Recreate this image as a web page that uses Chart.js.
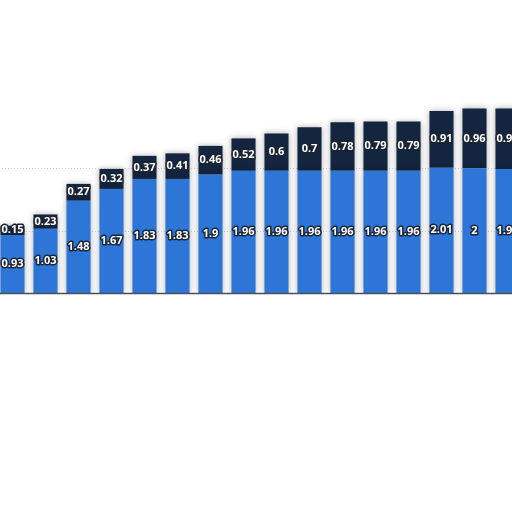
<!DOCTYPE html>
<html>
<head>
<meta charset="utf-8">
<script src="https://cdn.jsdelivr.net/npm/chart.js@4/dist/chart.umd.min.js"></script>
<style>
  html, body { margin: 0; padding: 0; background: #ffffff; overflow: hidden; width: 512px; height: 512px; }
  #wrap { position: absolute; left: -4px; top: 0; width: 528px; height: 512px; }
</style>
</head>
<body>
<div id="wrap"><canvas id="c"></canvas></div>
<script>
const categories = ["1","2","3","4","5","6","7","8","9","10","11","12","13","14","15","16"];
const lowerValues = [0.93, 1.03, 1.48, 1.67, 1.83, 1.83, 1.9, 1.96, 1.96, 1.96, 1.96, 1.96, 1.96, 2.01, 2, 1.99];
const upperValues = [0.15, 0.23, 0.27, 0.32, 0.37, 0.41, 0.46, 0.52, 0.6, 0.7, 0.78, 0.79, 0.79, 0.91, 0.96, 0.97];
const gridValues = [1, 2];

const lowerColor = "#2d76d8";
const upperColor = "#13253f";

const decorPlugin = {
  id: "decor",
  beforeDatasetsDraw(chart) {
    const ctx = chart.ctx;
    const y = chart.scales.y;
    ctx.save();
    ctx.strokeStyle = "rgba(190,190,190,0.7)";
    ctx.lineWidth = 1;
    ctx.setLineDash([1, 2]);
    gridValues.forEach(v => {
      const py = Math.round(y.getPixelForValue(v)) + 0.5;
      ctx.beginPath();
      ctx.moveTo(0, py);
      ctx.lineTo(chart.width, py);
      ctx.stroke();
    });
    ctx.restore();
    ctx.save();
    ctx.shadowColor = "rgba(0,0,0,0.3)";
    ctx.shadowBlur = 6;
  },
  afterDatasetsDraw(chart) {
    const ctx = chart.ctx;
    ctx.restore();
    const y = chart.scales.y;
    ctx.save();
    const py = y.getPixelForValue(0) + 0.5;
    ctx.strokeStyle = "#4a4f57";
    ctx.lineWidth = 1.5;
    ctx.beginPath();
    ctx.moveTo(0, py);
    ctx.lineTo(chart.width, py);
    ctx.stroke();

    ctx.font = "bold 11px 'Open Sans', sans-serif";
    ctx.textAlign = "center";
    ctx.textBaseline = "middle";
    ctx.lineJoin = "round";
    chart.data.datasets.forEach((ds, di) => {
      const meta = chart.getDatasetMeta(di);
      meta.data.forEach((bar, i) => {
        const v = ds.data[i];
        const cy = (bar.y + bar.base) / 2;
        const txt = String(v);
        ctx.lineWidth = 3;
        ctx.strokeStyle = "#1a2433";
        ctx.strokeText(txt, bar.x, cy);
        ctx.fillStyle = "#ffffff";
        ctx.fillText(txt, bar.x, cy);
      });
    });
    ctx.restore();
  }
};

new Chart(document.getElementById("c"), {
  type: "bar",
  data: {
    labels: categories,
    datasets: [
      { data: lowerValues, backgroundColor: lowerColor, borderWidth: 0, barPercentage: 0.73, categoryPercentage: 1.0 },
      { data: upperValues, backgroundColor: upperColor, borderWidth: 0, barPercentage: 0.73, categoryPercentage: 1.0 }
    ]
  },
  options: {
    responsive: true,
    maintainAspectRatio: false,
    animation: false,
    layout: { padding: { top: 0, bottom: 219, left: 0, right: 0 } },
    plugins: { legend: { display: false }, tooltip: { enabled: false } },
    scales: {
      x: { stacked: true, display: false },
      y: { stacked: true, display: false, min: 0, max: 4.7 }
    }
  },
  plugins: [decorPlugin]
});
</script>
</body>
</html>
